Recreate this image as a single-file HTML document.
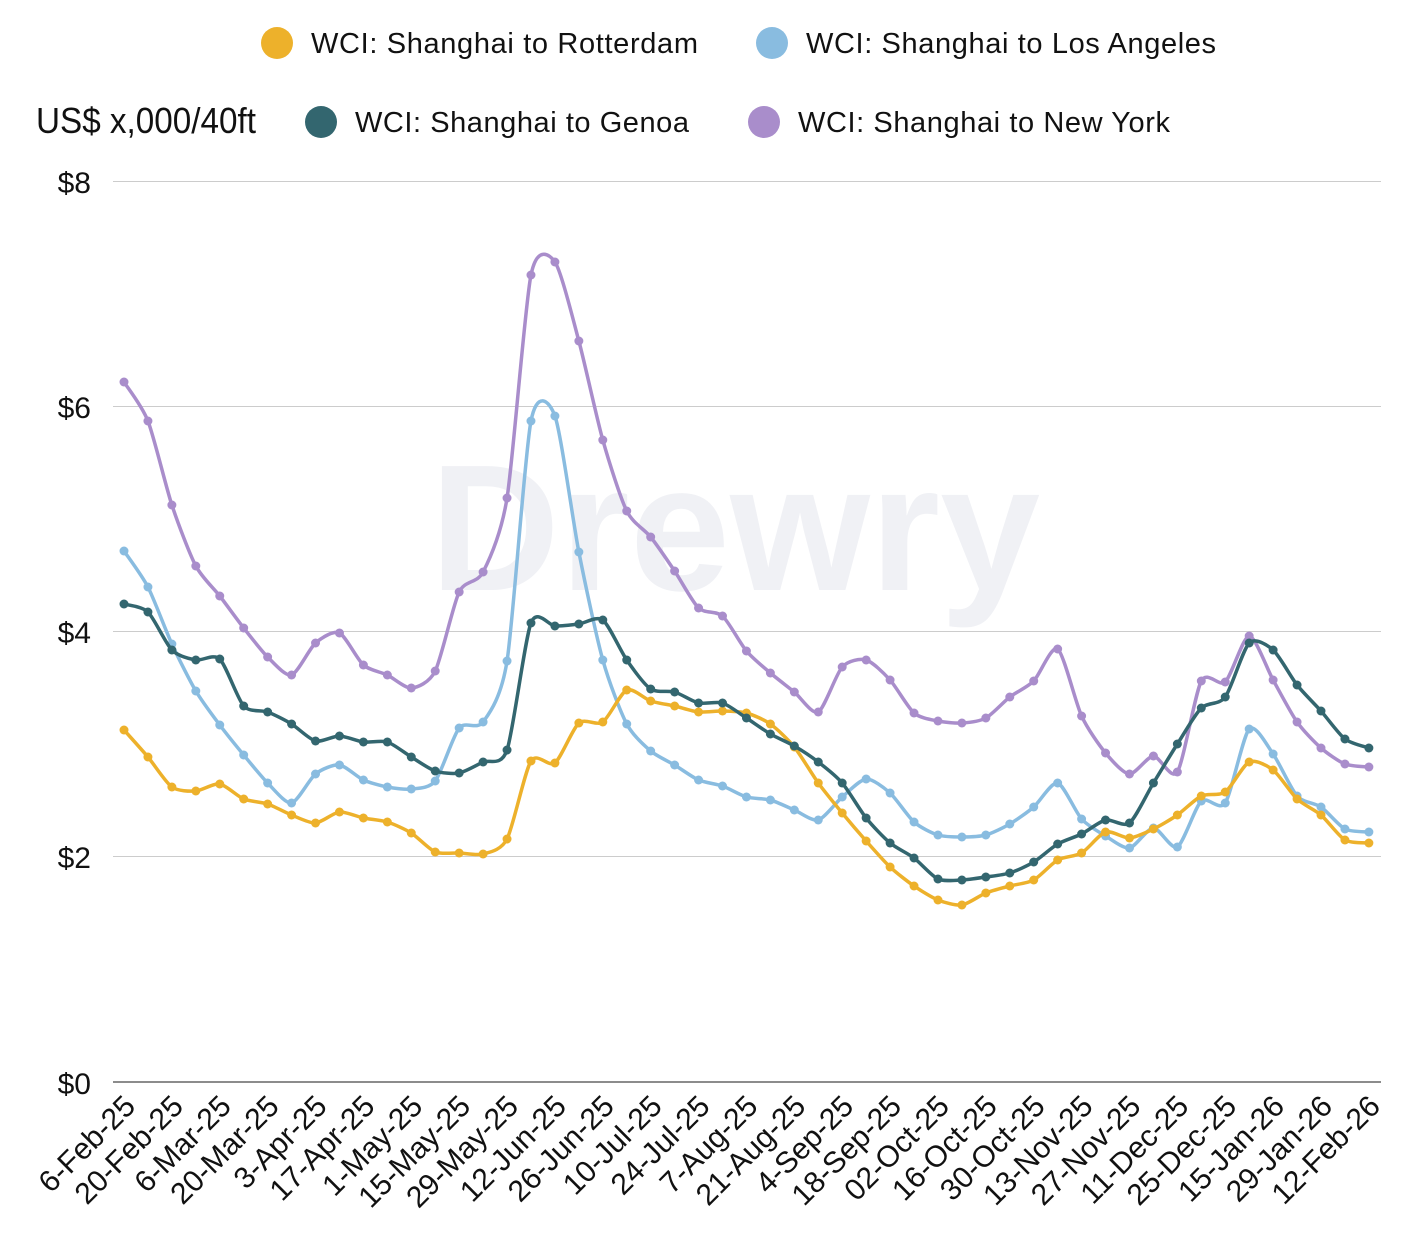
<!DOCTYPE html>
<html><head><meta charset="utf-8"><style>
html,body{margin:0;padding:0;background:#fff;}
svg text{font-family:"Liberation Sans",sans-serif;}
</style></head><body>
<svg id="c" width="1414" height="1239" xmlns="http://www.w3.org/2000/svg">
<text x="735" y="590" font-size="180" font-weight="bold" fill="#f0f1f5" text-anchor="middle">Drewry</text>
<g stroke="#cccccc" stroke-width="1">
<line x1="113" y1="181.5" x2="1381" y2="181.5"/>
<line x1="113" y1="406.5" x2="1381" y2="406.5"/>
<line x1="113" y1="631.5" x2="1381" y2="631.5"/>
<line x1="113" y1="856.5" x2="1381" y2="856.5"/>
</g>
<line x1="113" y1="1082" x2="1381" y2="1082" stroke="#666" stroke-width="1.5"/>
<g font-size="30" fill="#111" text-anchor="end">
<text x="91" y="193">$8</text><text x="91" y="418">$6</text><text x="91" y="643">$4</text><text x="91" y="868">$2</text><text x="91" y="1094">$0</text>
</g>
<circle cx="277" cy="43" r="16" fill="#EDB12B"/><text x="311" y="53" font-size="29" fill="#111" textLength="387">WCI: Shanghai to Rotterdam</text>
<circle cx="772" cy="43" r="16" fill="#89BCE0"/><text x="806" y="53" font-size="29" fill="#111" textLength="410">WCI: Shanghai to Los Angeles</text>
<text x="36" y="133" font-size="36" fill="#111" textLength="220" lengthAdjust="spacingAndGlyphs">US$ x,000/40ft</text>
<circle cx="321" cy="122" r="16" fill="#33666F"/><text x="355" y="132" font-size="29" fill="#111" textLength="334">WCI: Shanghai to Genoa</text>
<circle cx="764" cy="122" r="16" fill="#A98DCB"/><text x="798" y="132" font-size="29" fill="#111" textLength="372">WCI: Shanghai to New York</text>
<g id="series"></g>
<g id="xl" font-size="30" fill="#111" text-anchor="end"></g>
</svg>
<script>
var NS="http://www.w3.org/2000/svg";
function X(i){return 124+23.94*i;}
var data={
"#A98DCB":[382,421,505,566,596,628,657,675,643,633,665,675,688,671,592,572,498,275,262,341,440,511,537,571,608,616,651,673,692,712,667,660,680,713,721,723,718,697,681,649,716,753,774,756,772,681,682,636,680,722,748,764,767],
"#89BCE0":[551,587,644,691,725,755,783,803,774,765,780,787,789,781,728,722,661,421,416,552,660,724,751,765,780,786,797,800,810,820,797,779,793,822,835,837,835,824,807,783,819,836,848,828,847,801,803,729,754,796,807,829,832],
"#EDB12B":[730,757,787,791,784,799,804,815,823,812,818,822,833,852,853,854,839,761,763,723,722,690,701,706,712,711,713,724,747,783,813,841,867,886,900,905,893,886,880,860,853,832,838,829,815,796,792,762,770,799,815,840,843],
"#33666F":[604,612,650,660,659,706,712,724,741,736,742,742,757,771,773,762,750,623,626,624,620,660,689,692,703,703,718,734,746,762,783,818,843,858,879,880,877,873,862,844,834,820,823,783,744,708,697,643,650,685,711,739,748]
};
var g=document.getElementById("series");
for(var col in data){
 var y=data[col],n=y.length,p=[];
 for(var i=0;i<n;i++)p.push([X(i),y[i]]);
 var d="M"+p[0][0]+","+p[0][1];
 for(var i=0;i<n-1;i++){
  var p0=p[Math.max(i-1,0)],p1=p[i],p2=p[i+1],p3=p[Math.min(i+2,n-1)],t=8;
  d+=" C"+(p1[0]+(p2[0]-p0[0])/t)+","+(p1[1]+(p2[1]-p0[1])/t)+" "+(p2[0]-(p3[0]-p1[0])/t)+","+(p2[1]-(p3[1]-p1[1])/t)+" "+p2[0]+","+p2[1];
 }
 var path=document.createElementNS(NS,"path");
 path.setAttribute("d",d);path.setAttribute("fill","none");path.setAttribute("stroke",col);path.setAttribute("stroke-width","3.5");
 g.appendChild(path);
 for(var i=0;i<n;i++){var c=document.createElementNS(NS,"circle");c.setAttribute("cx",p[i][0]);c.setAttribute("cy",p[i][1]);c.setAttribute("r","4.5");c.setAttribute("fill",col);g.appendChild(c);}
}
var labels=["6-Feb-25","20-Feb-25","6-Mar-25","20-Mar-25","3-Apr-25","17-Apr-25","1-May-25","15-May-25","29-May-25","12-Jun-25","26-Jun-25","10-Jul-25","24-Jul-25","7-Aug-25","21-Aug-25","4-Sep-25","18-Sep-25","02-Oct-25","16-Oct-25","30-Oct-25","13-Nov-25","27-Nov-25","11-Dec-25","25-Dec-25","15-Jan-26","29-Jan-26","12-Feb-26"];
var xl=document.getElementById("xl");
for(var k=0;k<labels.length;k++){
 var x=X(2*k)+13,yy=1108;
 var t=document.createElementNS(NS,"text");
 t.setAttribute("x",x);t.setAttribute("y",yy);
 t.setAttribute("transform","rotate(-45 "+x+" "+yy+")");
 t.textContent=labels[k];xl.appendChild(t);
}
</script>
</body></html>
